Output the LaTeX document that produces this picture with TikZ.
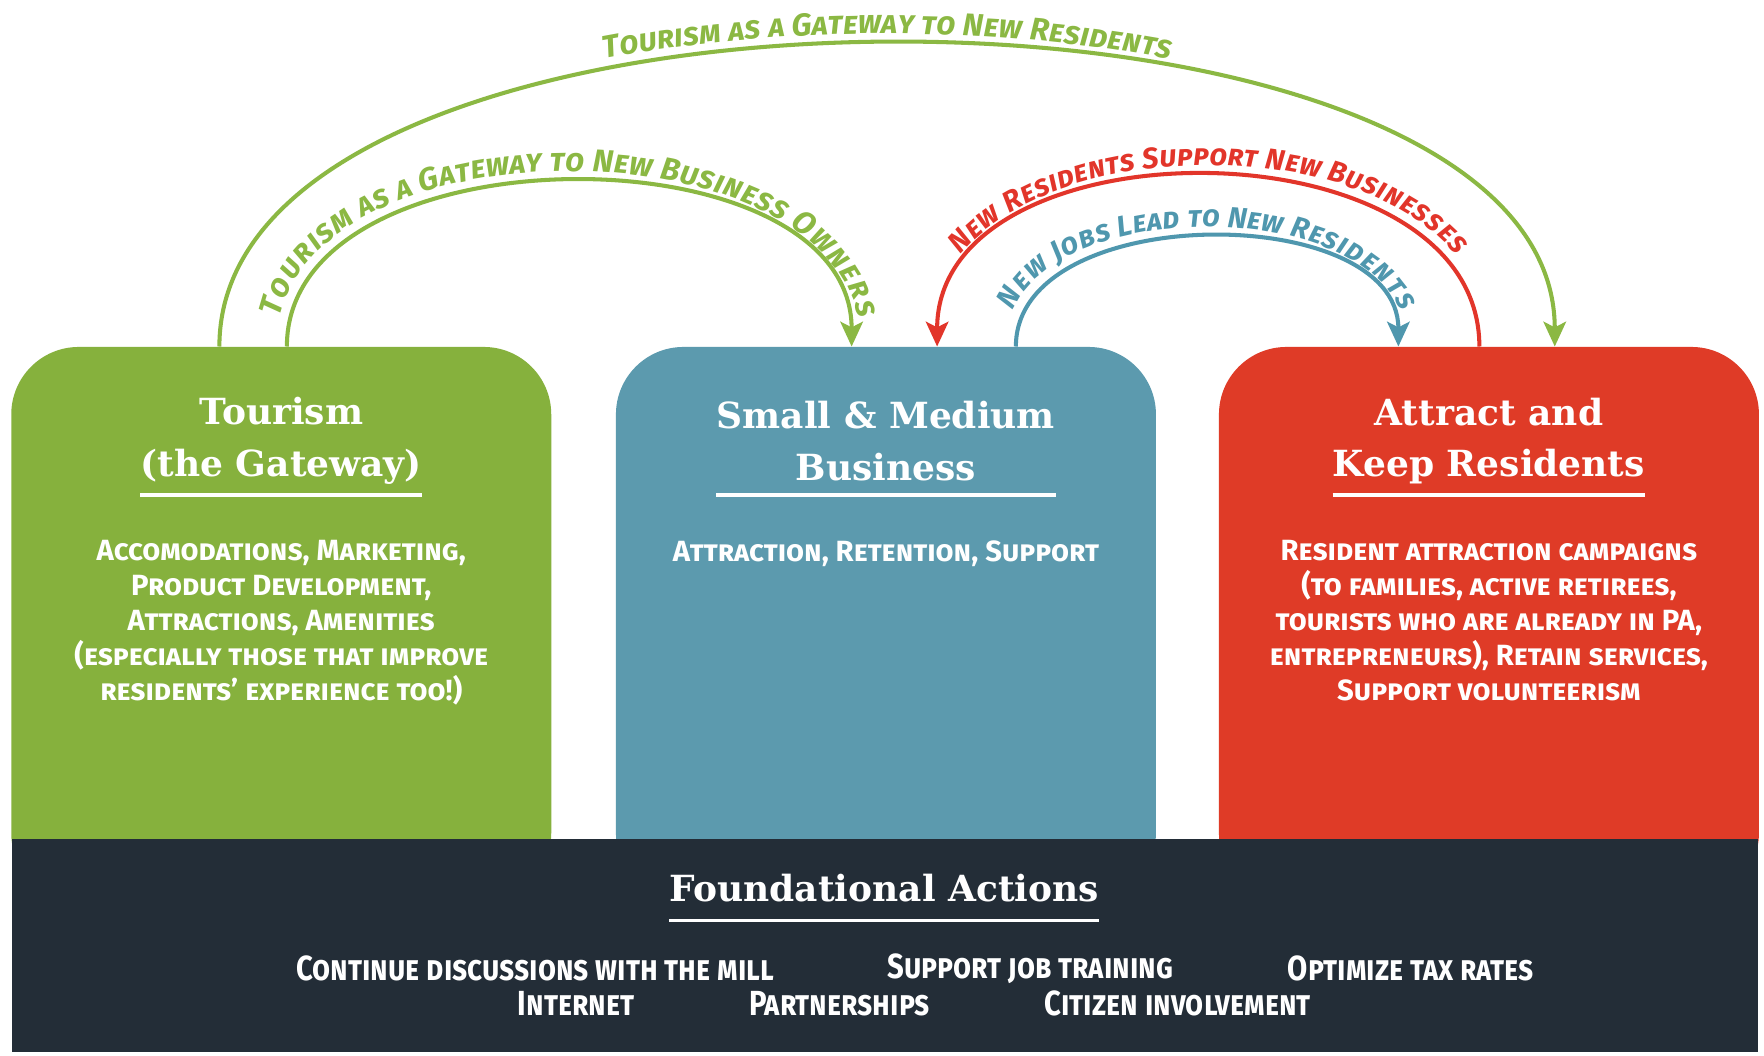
\documentclass[tikz,border=0pt]{standalone}
\usepackage{fontspec}
\setmainfont{DejaVu Serif}
\setsansfont{Fira Sans}
\newfontfamily\condfont[FakeStretch=0.84]{Fira Sans}
\usetikzlibrary{positioning,calc,arrows.meta,decorations.text}

\definecolor{tourgreen}{HTML}{86B13D}
\definecolor{arcgreen}{HTML}{8BB843}
\definecolor{bizblue}{HTML}{5C9AAE}
\definecolor{arcblue}{HTML}{4F97AE}
\definecolor{resred}{HTML}{DF3B27}
\definecolor{arcred}{HTML}{E2352A}
\definecolor{founddark}{HTML}{232D37}

\newcommand{\arcfont}{\sffamily\bfseries\itshape\scshape\fontsize{13}{15}\selectfont}
\newcommand{\bigarcfont}{\sffamily\bfseries\itshape\scshape\fontsize{14}{16}\selectfont}

\begin{document}
\begin{tikzpicture}[x=0.5pt,y=-0.5pt,
pillar/.style={rounded corners=30pt,minimum width=240pt,minimum height=246pt,anchor=north,inner sep=0pt},
head/.style={font=\bfseries\fontsize{16}{23}\selectfont,text=white,align=center,inner sep=0pt},
body/.style={font=\sffamily\bfseries\scshape\fontsize{13}{15.5}\selectfont,text=white,align=center,inner sep=0pt,anchor=north},
item/.style={font=\condfont\bfseries\scshape\fontsize{15.5}{17}\selectfont,text=white,inner sep=0pt},
uline/.style={white,line width=1.5pt},
flow/.style={line width=1.8pt,-{Stealth[length=11pt,width=10pt,inset=2.5pt]}},
arclabel/.style={decorate,decoration={text along path,text align=center,raise=4.5pt,text color=#1}}]
\fill[white] (0,0) rectangle (1568,938);
\useasboundingbox (0,0) rectangle (1568,938);

% the three pillars
\node[pillar,fill=tourgreen] (tour) at (250,308) {};
\node[pillar,fill=bizblue] (biz) at (787.5,308) {};
\node[pillar,fill=resred] (res) at (1323.5,308) {};

\node[head] (tour-t) at ([yshift=-42pt]tour.north) {Tourism\\(the Gateway)};
\node[head] (biz-t) at ([yshift=-42pt]biz.north) {Small \& Medium\\Business};
\node[head] (res-t) at ([yshift=-42pt]res.north) {Attract and\\Keep Residents};
\foreach \p in {tour,biz,res}
	\draw[uline] ([yshift=-66pt]\p.north -| \p-t.west) -- ([yshift=-66pt]\p.north -| \p-t.east);

\node[body] (tour-b) at ([yshift=-86pt]tour.north) {Accomodations, Marketing,\\Product Development,\\Attractions, Amenities\\(especially those that improve\\residents' experience too!)};
\node[body] (biz-b) at ([yshift=-86pt]biz.north) {Attraction, Retention, Support};
\node[body] (res-b) at ([yshift=-86pt]res.north) {Resident attraction campaigns\\(to families, active retirees,\\tourists who are already in PA,\\entrepreneurs), Retain services,\\Support volunteerism};

% foundation band
\node[fill=founddark,minimum width=776pt,minimum height=95pt,anchor=north west,inner sep=0pt] (found) at (10,745) {};
\node[head] (found-t) at (786,789) {Foundational Actions};
\draw[uline] ([yshift=-14.5pt]found-t.center -| found-t.west) -- ([yshift=-14.5pt]found-t.center -| found-t.east);
\node[item] (mill) at (476,861) {Continue discussions with the mill};
\node[item] (jobs) at (916,861) {Support job training};
\node[item] (tax) at (1254,861) {Optimize tax rates};
\node[item] (net) at (512,892) {Internet};
\node[item] (part) at (746,892) {Partnerships};
\node[item] (citz) at (1047,892) {Citizen involvement};

% arcs between pillars
\coordinate (og-s) at ([xshift=-27.5pt]tour.north);
\coordinate (og-e) at ([xshift=29.25pt]res.north);
\coordinate (ig-s) at ([xshift=2.5pt]tour.north);
\coordinate (ig-e) at ([xshift=-15.25pt]biz.north);
\coordinate (rd-s) at ([xshift=-4.25pt]res.north);
\coordinate (rd-e) at ([xshift=22.75pt]biz.north);
\coordinate (bl-s) at ([xshift=57.75pt]biz.north);
\coordinate (bl-e) at ([xshift=-40.25pt]res.north);

\draw[flow,arcgreen] (og-s) to[out=90,in=90,looseness=0.775] (og-e);
\path[arclabel=arcgreen,decoration={text={|\bigarcfont|Tourism as a Gateway to New Residents}}]
	(og-s) to[out=90,in=90,looseness=0.775] (og-e);
\draw[flow,arcgreen] (ig-s) to[out=90,in=90,looseness=1.0] (ig-e);
\path[arclabel=arcgreen,decoration={text={|\bigarcfont|Tourism as a Gateway to New Business Owners}}]
	(ig-s) to[out=90,in=90,looseness=1.0] (ig-e);
\draw[flow,arcred] (rd-s) to[out=90,in=90,looseness=1.08] (rd-e);
\path[arclabel=arcred,decoration={text={|\arcfont|New Residents Support New Businesses}}]
	(rd-e) to[out=90,in=90,looseness=1.08] (rd-s);
\draw[flow,arcblue] (bl-s) to[out=90,in=90,looseness=0.98] (bl-e);
\path[arclabel=arcblue,decoration={text={|\arcfont|New Jobs Lead to New Residents}}]
	(bl-s) to[out=90,in=90,looseness=0.98] (bl-e);
\end{tikzpicture}
\end{document}
